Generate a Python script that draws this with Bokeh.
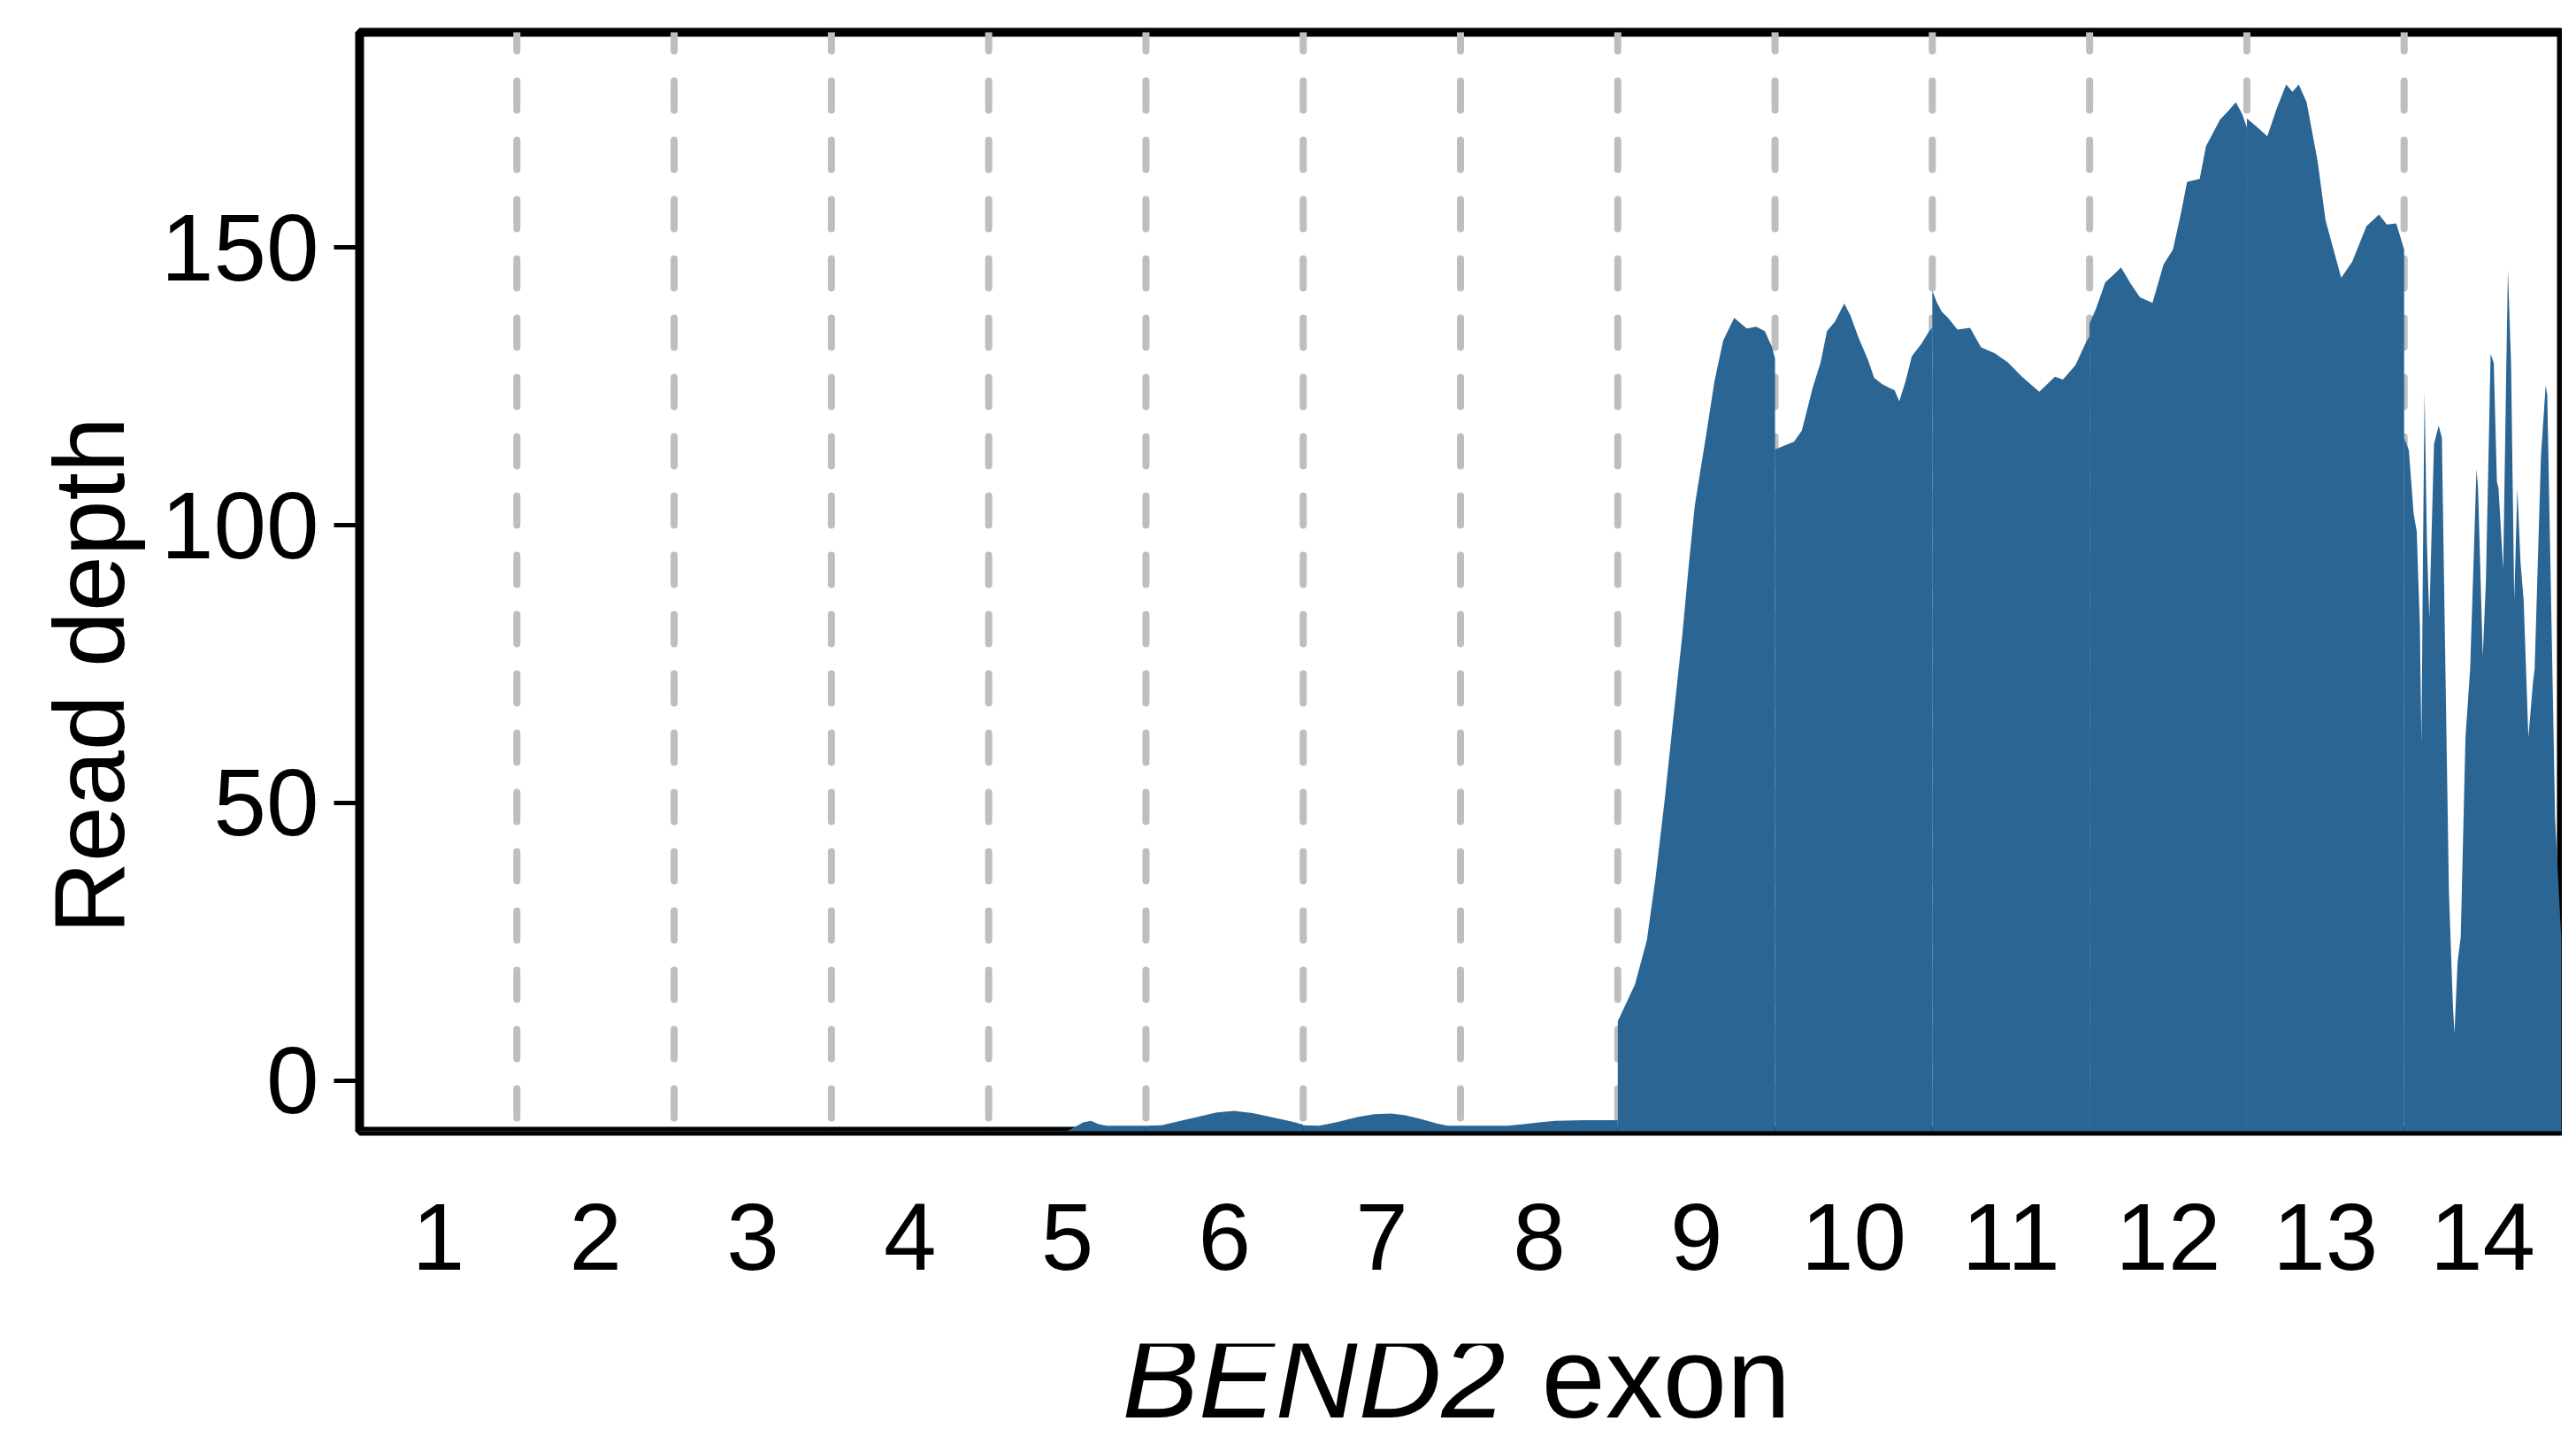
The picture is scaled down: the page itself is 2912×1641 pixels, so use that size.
import math
from bokeh.plotting import figure
from bokeh.models import Range1d, FixedTicker, Title
from bokeh.layouts import column
from bokeh.embed import file_html
from bokeh.resources import INLINE
from bokeh.core.properties import value

# ---------------- data ----------------
exon_numbers = list(range(1, 15))
exon_tick_labels = [str(n) for n in exon_numbers]
depth_ticks = [0, 50, 100, 150]
exon_boundaries = [n + 0.5 for n in range(1, 14)]

# coverage profile of each exon: position on the exon axis, read depth
exon01_pos = [0.5, 1.5]
exon01_depth = [-9, -9]
exon02_pos = [1.5, 2.5]
exon02_depth = [-9, -9]
exon03_pos = [2.5, 3.5]
exon03_depth = [-9, -9]
exon04_pos = [3.5, 4.5]
exon04_depth = [-9, -9]
exon05_pos = [4.5, 5.0, 5.05, 5.1, 5.15, 5.2, 5.25, 5.5]
exon05_depth = [-9, -9, -8.3, -7.5, -7.2, -7.8, -8.1, -8.1]
exon06_pos = [5.5, 5.6, 5.72, 5.83, 5.95, 6.06, 6.18, 6.31, 6.42, 6.5]
exon06_depth = [-8.1, -8.0, -7.2, -6.5, -5.7, -5.4, -5.8, -6.6, -7.3, -7.9]
exon07_pos = [6.5, 6.6, 6.72, 6.85, 6.95, 7.06, 7.15, 7.25, 7.35, 7.42, 7.5]
exon07_depth = [-8.0, -8.1, -7.4, -6.5, -6.0, -5.9, -6.2, -6.9, -7.7, -8.1, -8.1]
exon08_pos = [7.5, 7.8, 7.9, 8.0, 8.1, 8.3, 8.5]
exon08_depth = [-8.1, -8.1, -7.8, -7.5, -7.2, -7.1, -7.1]
exon09_pos = [8.5, 8.61, 8.685, 8.74, 8.80, 8.85, 8.91, 8.95, 8.99, 9.06,
              9.115, 9.17, 9.24, 9.32, 9.38, 9.435, 9.48, 9.5]
exon09_depth = [10.7, 17.4, 25.3, 36.5, 51.0, 64.4, 80.1, 92.4, 103.6, 115.9,
                125.9, 133.2, 137.3, 135.4, 135.7, 134.9, 132.1, 130.0]
exon10_pos = [9.5, 9.55, 9.62, 9.67, 9.69, 9.74, 9.79, 9.83, 9.88, 9.94, 9.98,
              10.03, 10.09, 10.13, 10.18, 10.22, 10.26, 10.29, 10.33, 10.37,
              10.43, 10.48, 10.5]
exon10_depth = [113.6, 114.2, 115.0, 117.0, 119.2, 124.8, 129.3, 134.9, 136.6,
                139.9, 137.7, 133.8, 129.8, 126.5, 125.4, 124.8, 124.3, 122.3,
                125.9, 130.4, 132.6, 134.9, 135.5]
exon11_pos = [10.5, 10.53, 10.56, 10.60, 10.66, 10.74, 10.81, 10.90, 10.98,
              11.07, 11.18, 11.28, 11.33, 11.41, 11.48, 11.5]
exon11_depth = [142.2, 140.0, 138.4, 137.3, 135.2, 135.5, 132.0, 130.9, 129.3,
                126.7, 124.0, 126.7, 126.2, 128.8, 133.1, 134.0]
exon12_pos = [11.5, 11.54, 11.60, 11.65, 11.70, 11.76, 11.82, 11.90, 11.97,
              12.03, 12.08, 12.12, 12.20, 12.24, 12.33, 12.38, 12.43, 12.47, 12.5]
exon12_depth = [136.3, 138.9, 143.7, 145.0, 146.4, 143.5, 141.0, 140.0, 146.9,
                149.6, 156.0, 161.8, 162.3, 168.2, 173.0, 174.5, 176.1, 174.0, 171.6]
exon13_pos = [12.5, 12.55, 12.63, 12.69, 12.75, 12.79, 12.83, 12.88, 12.95,
              13.00, 13.10, 13.17, 13.26, 13.34, 13.39, 13.45, 13.5]
exon13_depth = [173.2, 172.0, 170.0, 175.0, 179.3, 178.0, 179.3, 176.1, 165.5,
                154.9, 144.5, 147.4, 153.8, 155.9, 154.1, 154.3, 149.6]
exon14_pos = [13.5, 13.53, 13.56, 13.58, 13.60, 13.61, 13.62, 13.63, 13.645,
              13.66, 13.69, 13.72, 13.74, 13.76, 13.785, 13.81, 13.82, 13.84,
              13.86, 13.89, 13.92, 13.96, 13.97, 14.00, 14.02, 14.05, 14.07,
              14.09, 14.10, 14.13, 14.15, 14.16, 14.18, 14.20, 14.22, 14.24,
              14.26, 14.29, 14.32, 14.33, 14.37, 14.40, 14.41, 14.43, 14.46, 14.5]
exon14_depth = [115.7, 113.5, 102.2, 98.9, 82.0, 60.7, 95.5, 124.1, 96.6,
                83.2, 114.6, 117.9, 115.7, 78.7, 33.8, 13.6, 8.5, 21.4,
                25.9, 61.8, 74.2, 110.1, 106.7, 76.4, 89.9, 130.8, 129.2,
                107.8, 106.7, 92.1, 129.2, 146.0, 129.2, 86.5, 106.7, 93.3,
                86.5, 61.8, 71.9, 74.2, 112.4, 125.2, 123.5, 93.3, 47.2, 25.0]

exon_profiles = [
    (exon01_pos, exon01_depth), (exon02_pos, exon02_depth),
    (exon03_pos, exon03_depth), (exon04_pos, exon04_depth),
    (exon05_pos, exon05_depth), (exon06_pos, exon06_depth),
    (exon07_pos, exon07_depth), (exon08_pos, exon08_depth),
    (exon09_pos, exon09_depth), (exon10_pos, exon10_depth),
    (exon11_pos, exon11_depth), (exon12_pos, exon12_depth),
    (exon13_pos, exon13_depth), (exon14_pos, exon14_depth),
]

x_title_parts = ["BEND2", "exon"]
x_title_styles = ["italic", "normal"]
x_title_starts = [5.348, 8.014]   # exon-axis position where each word begins
y_title = "Read depth"

# ---------------- figure ----------------
FONT = "Liberation Sans"
FILL = "#2A6594"
X_MIN, X_MAX = 0.5, 14.5
Y_MIN, Y_MAX = -9.08, 188.7
W = 2896
H_MAIN = 1518
H_TITLE = 123

p = figure(width=W, height=H_MAIN,
           x_range=Range1d(X_MIN, X_MAX), y_range=Range1d(Y_MIN, Y_MAX),
           output_backend="svg", toolbar_location=None,
           min_border_left=406, min_border_right=1,
           min_border_top=36, min_border_bottom=H_MAIN - 1278)
p.xgrid.visible = False
p.ygrid.visible = False
p.background_fill_color = "white"
p.border_fill_color = "white"
p.outline_line_color = "black"
p.outline_line_width = 10

# dashed exon boundaries (behind the coverage)
p.segment(x0=exon_boundaries, y0=[Y_MIN] * len(exon_boundaries),
          x1=exon_boundaries, y1=[Y_MAX] * len(exon_boundaries),
          line_color="#BEBEBE", line_width=8, line_dash="33 34",
          line_dash_offset=52, line_cap="round")

# coverage, one area per exon
for pos, depth in exon_profiles:
    p.varea(x=pos, y1=[Y_MIN - 20] * len(pos), y2=depth,
            fill_color=FILL, fill_alpha=1.0)

# axes
xa = p.xaxis[0]
xa.ticker = FixedTicker(ticks=exon_numbers)
xa.major_label_overrides = {n: s for n, s in zip(exon_numbers, exon_tick_labels)}
xa.axis_line_color = None
xa.major_tick_line_color = None
xa.minor_tick_line_color = None
xa.major_tick_out = 0
xa.major_tick_in = 0
xa.major_label_standoff = 82
xa.major_label_text_font = FONT
xa.major_label_text_font_size = "107px"
xa.major_label_text_color = "black"

ya = p.yaxis[0]
ya.ticker = FixedTicker(ticks=depth_ticks)
ya.axis_line_color = None
ya.minor_tick_line_color = None
ya.major_tick_line_color = "black"
ya.major_tick_line_width = 5
ya.major_tick_out = 29
ya.major_tick_in = 0
ya.major_label_standoff = 17
ya.major_label_text_font = FONT
ya.major_label_text_font_size = "107px"
ya.major_label_text_color = "black"

# y-axis title (starts below the panel centre, as in the original)
p.add_layout(Title(text=y_title, align="left", offset=223,
                   text_font=FONT, text_font_style="normal",
                   text_font_size="113px", text_color="black",
                   standoff=29), "left")

# x-axis title strip, sharing the exon axis
q = figure(width=W, height=H_TITLE, x_range=p.x_range,
           y_range=Range1d(0, H_TITLE), x_axis_type=None, y_axis_type=None,
           output_backend="svg", toolbar_location=None,
           min_border_left=406, min_border_right=1,
           min_border_top=0, min_border_bottom=0)
q.grid.visible = False
q.outline_line_color = None
q.background_fill_color = "white"
q.border_fill_color = "white"
for word, style, start in zip(x_title_parts, x_title_styles, x_title_starts):
    q.text(x=[start], y=[85], text=[word], text_font=value(FONT),
           text_font_style=style, text_font_size="130px",
           text_align="left", text_baseline="alphabetic", text_color="black")

layout = column(p, q, spacing=0)
open("out.html", "w").write(file_html(layout, INLINE))
